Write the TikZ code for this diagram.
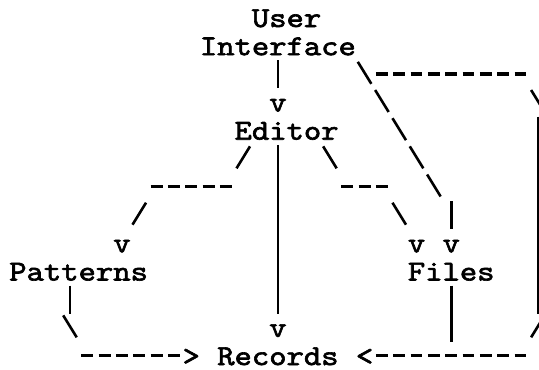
\documentclass[tikz,border=0pt]{standalone}
\usepackage{fontspec}
\newfontfamily\cour{lmmono10-regular}[Extension=.otf, FakeStretch=1.143, FakeBold=2.2]
\begin{document}
\begin{tikzpicture}[x=17.33pt, y=-28.17pt, shift={(9.3pt,-27pt)},
  lbl/.style={anchor=base west, inner sep=0pt, outer sep=0pt,
    font=\cour\fontsize{28.88pt}{28.17pt}\selectfont},
  bar/.style={line width=2.6pt},
  dashrun/.style={line width=3.6pt, dash pattern=on 11.9pt off 5.43pt},
  diag/.style={line width=2.6pt, dash pattern=on 25.8pt off 7.27pt}]
\useasboundingbox (-9.3pt,27pt) rectangle (529.7pt,-343pt);
% labels
\node[lbl] (user) at (14,0) {User};
\node[lbl] (iface) at (11,1) {Interface};
\node[lbl] (editor) at (13,4) {Editor};
\node[lbl] (patterns) at (0,9) {Patterns};
\node[lbl] (files) at (23,9) {Files};
\node[lbl] (records) at (12,12) {Records};
% arrow heads
\node[lbl] (hA) at (15,3) {v};
\node[lbl] (hB) at (25,8) {v};
\node[lbl] (hF) at (6,8) {v};
\node[lbl] (hG) at (23,8) {v};
\node[lbl] (hE) at (15,11) {v};
\node[lbl] (hH) at (10,12) {>};
\node[lbl] (hC) at (20,12) {<};
% connector points
\path (15.5,1.18) coordinate (a1) (15.5,2.18) coordinate (a2)
      (20.11,1.237) coordinate (b1) (24.89,6.017) coordinate (b2)
      (25.5,6.18) coordinate (b3) (25.5,7.18) coordinate (b4)
      (21.156,1.663) coordinate (c1) (29.842,1.663) coordinate (c2)
      (30.11,2.237) coordinate (c3) (30.89,3.017) coordinate (c4)
      (30.5,3.18) coordinate (c5) (30.5,10.18) coordinate (c6)
      (30.89,10.237) coordinate (c7) (30.11,11.017) coordinate (c8)
      (29.842,11.663) coordinate (c9) (21.156,11.663) coordinate (c10)
      (25.5,9.18) coordinate (d1) (25.5,11.18) coordinate (d2)
      (15.5,4.18) coordinate (e1) (15.5,10.18) coordinate (e2)
      (13.89,4.237) coordinate (f1) (13.11,5.017) coordinate (f2)
      (12.842,5.663) coordinate (f3) (8.156,5.663) coordinate (f4)
      (7.89,6.237) coordinate (f5) (7.11,7.017) coordinate (f6)
      (18.11,4.237) coordinate (g1) (18.89,5.017) coordinate (g2)
      (19.156,5.663) coordinate (g3) (21.842,5.663) coordinate (g4)
      (22.11,6.237) coordinate (g5) (22.89,7.017) coordinate (g6)
      (3.5,9.18) coordinate (h1) (3.5,10.18) coordinate (h2)
      (3.11,10.237) coordinate (h3) (3.89,11.017) coordinate (h4)
      (4.156,11.663) coordinate (h5) (9.842,11.663) coordinate (h6);
% Interface -> Editor
\draw[bar] (a1) -- (a2);
% Interface -> Files
\draw[diag] (b1) -- (b2);
\draw[bar] (b3) -- (b4);
% Interface -> Records (right loop)
\draw[dashrun] (c1) -- (c2);
\draw[diag] (c3) -- (c4);
\draw[bar] (c5) -- (c6);
\draw[diag] (c7) -- (c8);
\draw[dashrun] (c10) -- (c9);
% Files -> Records
\draw[bar] (d1) -- (d2);
% Editor -> Records
\draw[bar] (e1) -- (e2);
% Editor -> Patterns
\draw[diag] (f1) -- (f2);
\draw[dashrun] (f4) -- (f3);
\draw[diag] (f5) -- (f6);
% Editor -> Files
\draw[diag] (g1) -- (g2);
\draw[dashrun] (g3) -- (g4);
\draw[diag] (g5) -- (g6);
% Patterns -> Records
\draw[bar] (h1) -- (h2);
\draw[diag] (h3) -- (h4);
\draw[dashrun] (h5) -- (h6);
\end{tikzpicture}
\end{document}
